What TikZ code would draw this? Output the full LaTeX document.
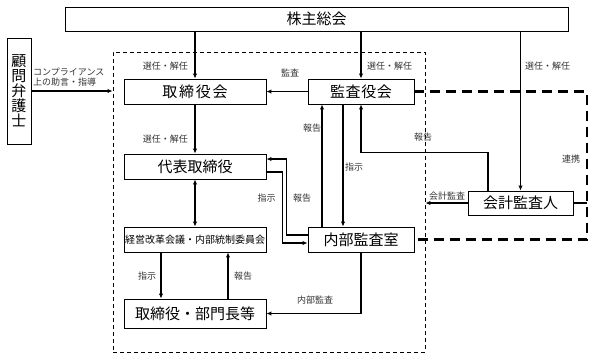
\documentclass[tikz,border=0pt]{standalone}
\usepackage{fontspec}
\newfontfamily\jp{Noto Sans CJK JP}
\usetikzlibrary{arrows.meta}
\tikzset{
  box/.style={draw, line width=0.9pt, inner sep=0pt, font=\jp\fontsize{15}{15}\selectfont},
  lbl/.style={inner sep=0pt, font=\jp\fontsize{9}{10.5}\selectfont, text=black!80},
  arr/.style={line width=1.1pt, -{Latex[length=5pt,width=4.5pt]}},
  plainln/.style={line width=1.1pt},
  thindash/.style={draw, line width=0.9pt, dash pattern=on 4pt off 3pt},
  thickdash/.style={line width=2.2pt, dash pattern=on 10pt off 6pt}
}
\begin{document}
\begin{tikzpicture}[x=1pt,y=-1pt]
\useasboundingbox (0,0) rectangle (597,360);
% dashed company area
\node[thindash, minimum width=312pt, minimum height=300pt, inner sep=0pt] (area) at (269,202) {};
% boxes
\node[box, minimum width=503pt, minimum height=24pt] (kabu) at (316.5,19) {株主総会};
\node[box, minimum width=24pt, minimum height=106pt, align=center, font=\jp\fontsize{15}{15}\selectfont] (komon) at (19,91) {顧\\問\\弁\\護\\士};
\node[box, minimum width=142pt, minimum height=25pt, font=\jp\fontsize{15}{15}\selectfont\addfontfeature{LetterSpace=12}] (tb) at (195,91.5) {取締役会};
\node[box, minimum width=106pt, minimum height=25pt, font=\jp\fontsize{15}{15}\selectfont\addfontfeature{LetterSpace=4}] (kansa) at (361,91.5) {監査役会};
\node[box, minimum width=142pt, minimum height=25pt] (daihyo) at (195,166.5) {代表取締役};
\node[box, minimum width=142pt, minimum height=25pt, font=\jp\fontsize{10}{10}\selectfont] (keiei) at (195,239.5) {経営改革会議・内部統制委員会};
\node[box, minimum width=142pt, minimum height=29pt] (bumon) at (195,313.5) {取締役・部門長等};
\node[box, minimum width=106pt, minimum height=25pt] (naibu) at (361,239.5) {内部監査室};
\node[box, minimum width=105pt, minimum height=24pt] (kaikei) at (520.5,203) {会計監査人};
% audit area (thick dashed)
\coordinate (c1) at (587,91.5);
\coordinate (c2) at (587,239.5);
\draw[thickdash] (kansa.east) -- (c1) -- (c2) -- (naibu.east);
\draw[plainln] (kaikei.east) -- (kaikei.east -| c1);
% connectors
\draw[arr] (komon.east) -- (komon.east -| area.west);
\draw[arr] (tb.north |- kabu.south) -- (tb.north);
\draw[arr] (kansa.north |- kabu.south) -- (kansa.north);
\draw[arr] (kaikei.north |- kabu.south) -- (kaikei.north);
\draw[arr] (kansa.west) -- (tb.east);
\draw[arr] (tb.south) -- (daihyo.north);
\draw[line width=1.1pt, {Latex[length=5pt,width=4.5pt]}-{Latex[length=5pt,width=4.5pt]}] (daihyo.south) -- (keiei.north);
\draw[arr] ([xshift=-34pt]keiei.south) -- ([xshift=-34pt]keiei.south |- bumon.north);
\draw[arr] ([xshift=33pt]bumon.north) -- ([xshift=33pt]bumon.north |- keiei.south);
\draw[arr] (naibu.south) |- (bumon.east);
\draw[arr] ([xshift=-39pt]naibu.north) -- ([xshift=-39pt]naibu.north |- kansa.south);
\draw[arr] ([xshift=-18pt]kansa.south) -- ([xshift=-18pt]kansa.south |- naibu.north);
\draw[arr] ([xshift=-32.5pt]kaikei.north) -- ++(0,-38) -| (kansa.south);
\draw[arr] (kaikei.west) -- (kaikei.west -| area.east);
\draw[arr] ([yshift=4.5pt]naibu.west) -- ++(-21,0) |- ([yshift=7.5pt]daihyo.east);
\draw[arr] ([yshift=-5.5pt]daihyo.east) -- ++(16,0) |- ([yshift=-3.5pt]naibu.west);
% labels
\node[lbl, anchor=west, align=left] (lcomp) at (33,77) {コンプライアンス\\上の助言・指導};
\node[lbl, anchor=east] (l1) at (188,66) {選任・解任};
\node[lbl, anchor=west] (l2) at (367,66) {選任・解任};
\node[lbl, anchor=west] (l3) at (525,66) {選任・解任};
\node[lbl] (l4) at (290,73) {監査};
\node[lbl, anchor=east] (l5) at (188,139) {選任・解任};
\node[lbl] (l6) at (147,276) {指示};
\node[lbl] (l7) at (243,276) {報告};
\node[lbl] (l8) at (315,300) {内部監査};
\node[lbl] (l9) at (312,128) {報告};
\node[lbl] (l10) at (354,167) {指示};
\node[lbl] (l11) at (423,137) {報告};
\node[lbl] (l12) at (447,196) {会計監査};
\node[lbl] (l13) at (571,159) {連携};
\node[lbl] (l14) at (266.5,198) {指示};
\node[lbl] (l15) at (302,198) {報告};
\end{tikzpicture}
\end{document}
